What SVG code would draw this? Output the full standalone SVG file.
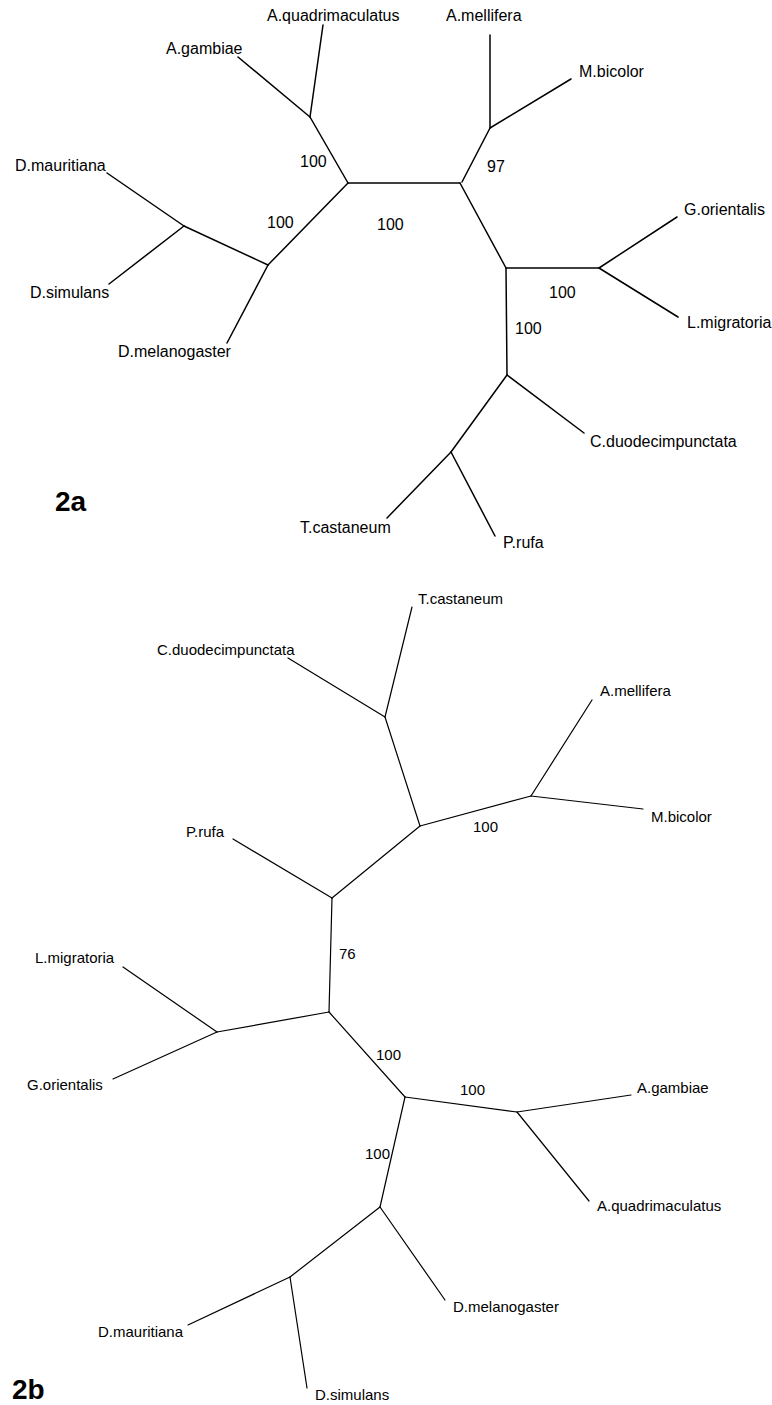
<svg xmlns="http://www.w3.org/2000/svg" width="772" height="1405" viewBox="0 0 772 1405">
<style>
text{font-family:"Liberation Sans",Arial,sans-serif;fill:#000}
.a{font-size:16px}
.b{font-size:15px}
.fig{font-size:28px;font-weight:bold}
.ea line{stroke:#000;stroke-width:1.5;stroke-linecap:round}
.eb line{stroke:#000;stroke-width:1.2;stroke-linecap:round}
</style>
<rect width="772" height="1405" fill="#fff"/>
<g id="connectors">
<g class="ea" id="edges-2a">
<line x1="323" y1="25" x2="310" y2="117"/>
<line x1="238" y1="57" x2="310" y2="117"/>
<line x1="310" y1="117" x2="348" y2="183"/>
<line x1="107" y1="173" x2="184" y2="226"/>
<line x1="109" y1="284" x2="184" y2="226"/>
<line x1="184" y1="226" x2="268" y2="265"/>
<line x1="268" y1="265" x2="348" y2="183"/>
<line x1="268" y1="265" x2="227" y2="343"/>
<line x1="348" y1="183" x2="460" y2="183"/>
<line x1="462" y1="182" x2="490" y2="128"/>
<line x1="490" y1="128" x2="490" y2="35"/>
<line x1="490" y1="128" x2="571" y2="79"/>
<line x1="460" y1="183" x2="506" y2="268"/>
<line x1="506" y1="268" x2="599" y2="268"/>
<line x1="599" y1="268" x2="677" y2="217"/>
<line x1="599" y1="268" x2="678" y2="317"/>
<line x1="506" y1="268" x2="507" y2="375"/>
<line x1="507" y1="375" x2="584" y2="433"/>
<line x1="507" y1="375" x2="451" y2="452"/>
<line x1="451" y1="452" x2="387" y2="518"/>
<line x1="451" y1="452" x2="495" y2="536"/>
</g>
<g class="eb" id="edges-2b">
<line x1="412" y1="607" x2="385" y2="717"/>
<line x1="288" y1="658" x2="385" y2="717"/>
<line x1="385" y1="717" x2="420" y2="826"/>
<line x1="420" y1="826" x2="531" y2="796"/>
<line x1="531" y1="796" x2="592" y2="700"/>
<line x1="531" y1="796" x2="643" y2="809"/>
<line x1="420" y1="826" x2="332" y2="898"/>
<line x1="233" y1="839" x2="332" y2="898"/>
<line x1="332" y1="898" x2="329" y2="1012"/>
<line x1="329" y1="1012" x2="217" y2="1032"/>
<line x1="217" y1="1032" x2="123" y2="967"/>
<line x1="217" y1="1032" x2="113" y2="1079"/>
<line x1="329" y1="1012" x2="405" y2="1097"/>
<line x1="405" y1="1097" x2="517" y2="1112"/>
<line x1="517" y1="1112" x2="631" y2="1095"/>
<line x1="517" y1="1112" x2="589" y2="1201"/>
<line x1="405" y1="1097" x2="380" y2="1207"/>
<line x1="380" y1="1207" x2="445" y2="1300"/>
<line x1="380" y1="1207" x2="290" y2="1277"/>
<line x1="290" y1="1277" x2="188" y2="1325"/>
<line x1="290" y1="1277" x2="307" y2="1388"/>
</g>
</g>
<g id="tree-2a" class="a">
<g id="a-quadrimaculatus"><text x="267" y="21">A.quadrimaculatus</text></g>
<g id="a-gambiae"><text x="166" y="54">A.gambiae</text></g>
<g id="a-mauritiana"><text x="15" y="171">D.mauritiana</text></g>
<g id="a-simulans"><text x="30" y="298">D.simulans</text></g>
<g id="a-melanogaster"><text x="118" y="357">D.melanogaster</text></g>
<g id="a-mellifera"><text x="446" y="21">A.mellifera</text></g>
<g id="a-bicolor"><text x="579" y="77">M.bicolor</text></g>
<g id="a-orientalis"><text x="684" y="215">G.orientalis</text></g>
<g id="a-migratoria"><text x="687" y="328">L.migratoria</text></g>
<g id="a-duodecimpunctata"><text x="590" y="447">C.duodecimpunctata</text></g>
<g id="a-castaneum"><text x="300" y="533">T.castaneum</text></g>
<g id="a-rufa"><text x="503" y="548">P.rufa</text></g>
<g id="a-support">
<text x="300" y="167">100</text>
<text x="267" y="228">100</text>
<text x="377" y="230">100</text>
<text x="487" y="172">97</text>
<text x="549" y="298">100</text>
<text x="515" y="334">100</text>
</g>
<g id="label-2a"><text class="fig" x="55" y="511">2a</text></g>
</g>
<g id="tree-2b" class="b">
<g id="b-castaneum"><text x="418" y="604">T.castaneum</text></g>
<g id="b-duodecimpunctata"><text x="157" y="655">C.duodecimpunctata</text></g>
<g id="b-mellifera"><text x="600" y="696">A.mellifera</text></g>
<g id="b-bicolor"><text x="651" y="822">M.bicolor</text></g>
<g id="b-rufa"><text x="186" y="837">P.rufa</text></g>
<g id="b-migratoria"><text x="35" y="963">L.migratoria</text></g>
<g id="b-orientalis"><text x="27" y="1090">G.orientalis</text></g>
<g id="b-gambiae"><text x="637" y="1093">A.gambiae</text></g>
<g id="b-quadrimaculatus"><text x="597" y="1211">A.quadrimaculatus</text></g>
<g id="b-melanogaster"><text x="453" y="1312">D.melanogaster</text></g>
<g id="b-mauritiana"><text x="98" y="1337">D.mauritiana</text></g>
<g id="b-simulans"><text x="315" y="1400">D.simulans</text></g>
<g id="b-support">
<text x="473" y="832">100</text>
<text x="339" y="959">76</text>
<text x="376" y="1060">100</text>
<text x="460" y="1095">100</text>
<text x="365" y="1159">100</text>
</g>
<g id="label-2b"><text class="fig" x="12" y="1399">2b</text></g>
</g>
</svg>
